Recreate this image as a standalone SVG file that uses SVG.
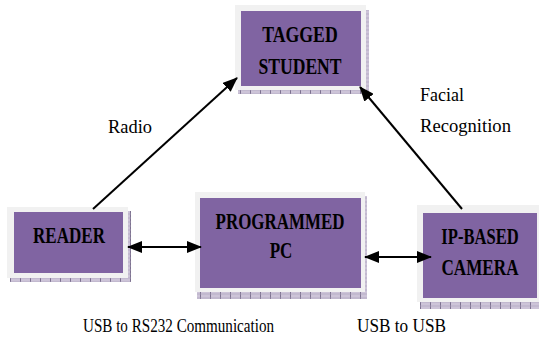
<svg xmlns="http://www.w3.org/2000/svg" width="539" height="337" viewBox="0 0 539 337">
<defs>
<pattern id="sh" patternUnits="userSpaceOnUse" width="10" height="4">
<rect width="10" height="4" fill="#cdc4d8"/>
<line x1="0.5" y1="0" x2="0.5" y2="4" stroke="#7d7290" stroke-width="1"/>
<line x1="0" y1="2" x2="10" y2="2" stroke="#a89cb8" stroke-width="0.6"/>
</pattern>
<marker id="ah" markerUnits="userSpaceOnUse" markerWidth="15" markerHeight="12" viewBox="0 0 15 12" refX="14" refY="6" orient="auto-start-reverse">
<path d="M0,0 L15,6 L0,12 z" fill="#000"/>
</marker>
</defs>
<style>
.shadow{fill:url(#sh)}
.frame{fill:#f1f1f1}
.box{fill:#8064a2}
.bt{font-family:"Liberation Serif","Times New Roman",serif;font-weight:bold;font-size:23px;fill:#000;text-anchor:middle}
.lt{font-family:"Liberation Serif","Times New Roman",serif;font-size:18px;fill:#000}
.conn line{stroke:#000;stroke-width:2;fill:none}
</style>
<rect width="539" height="337" fill="#fff"/>

<g id="tagged-student">
<rect class="shadow" x="238" y="10" width="131" height="84"/>
<rect class="frame" x="235" y="5" width="131" height="85"/>
<rect class="box" x="241" y="11" width="120" height="75"/>
<text class="bt" transform="translate(300,42) scale(0.77,1)">TAGGED</text>
<text class="bt" transform="translate(300,74) scale(0.765,1)">STUDENT</text>
</g>

<g id="reader">
<rect class="shadow" x="10" y="211" width="121" height="71"/>
<rect class="frame" x="7" y="207" width="121" height="71"/>
<rect class="box" x="14" y="212" width="109" height="61"/>
<text class="bt" transform="translate(69,243) scale(0.74,1)">READER</text>
</g>

<g id="programmed-pc">
<rect class="shadow" x="197" y="196" width="170" height="103"/>
<rect class="frame" x="195" y="192" width="170" height="100"/>
<rect class="box" x="200" y="198" width="161" height="90"/>
<text class="bt" transform="translate(280,229) scale(0.737,1)">PROGRAMMED</text>
<text class="bt" transform="translate(281,258) scale(0.74,1)">PC</text>
</g>

<g id="ip-based-camera">
<rect class="shadow" x="420" y="210" width="119" height="99"/>
<rect class="frame" x="417" y="205" width="122" height="97"/>
<rect class="box" x="423" y="213" width="114" height="85"/>
<text class="bt" transform="translate(480,244) scale(0.72,1)">IP-BASED</text>
<text class="bt" transform="translate(480,275) scale(0.744,1)">CAMERA</text>
</g>

<g id="connectors" class="conn">
<line x1="93" y1="209" x2="237" y2="78" marker-end="url(#ah)"/>
<line x1="462" y1="209" x2="360" y2="87" marker-end="url(#ah)"/>
<line x1="128" y1="247" x2="201" y2="247" marker-start="url(#ah)" marker-end="url(#ah)"/>
<line x1="365" y1="257" x2="431" y2="257" marker-start="url(#ah)" marker-end="url(#ah)"/>
</g>

<g id="labels">
<text class="lt" x="108" y="133" font-size="19" textLength="44" lengthAdjust="spacingAndGlyphs">Radio</text>
<text class="lt" x="420" y="101" textLength="44" lengthAdjust="spacingAndGlyphs">Facial</text>
<text class="lt" x="420" y="132" textLength="91" lengthAdjust="spacingAndGlyphs">Recognition</text>
<text class="lt" x="83" y="332" font-size="17" textLength="191" lengthAdjust="spacingAndGlyphs">USB to RS232 Communication</text>
<text class="lt" x="357" y="332" font-size="17" textLength="89" lengthAdjust="spacingAndGlyphs">USB to USB</text>
</g>
</svg>
